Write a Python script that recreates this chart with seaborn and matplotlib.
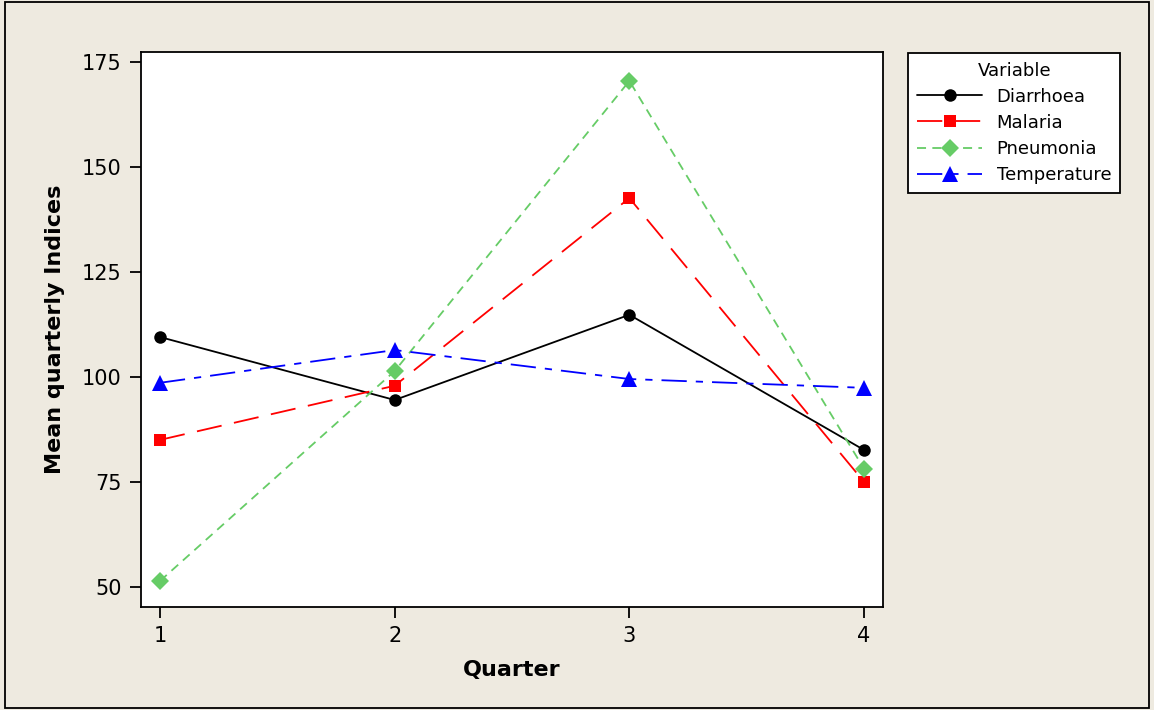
import pandas as pd
import matplotlib.pyplot as plt
import seaborn as sns
from matplotlib.patches import Rectangle

# Valores
quarters = [1, 2, 3, 4]
diarrhoea = [109.5, 94.5, 114.8, 82.6]
malaria = [85.0, 97.9, 142.6, 75.0]
pneumonia = [51.4, 101.4, 170.5, 78.1]
temperature = [98.6, 106.4, 99.5, 97.4]
variables = ['Diarrhoea', 'Malaria', 'Pneumonia', 'Temperature']

df = pd.DataFrame({
    'Quarter': quarters * 4,
    'Value': diarrhoea + malaria + pneumonia + temperature,
    'Variable': [v for v in variables for _ in quarters],
})

sns.set_style('ticks')
plt.rcParams['font.family'] = ['DejaVu Sans']
plt.rcParams.update({'text.color': 'black', 'axes.labelcolor': 'black',
                     'xtick.color': 'black', 'ytick.color': 'black',
                     'axes.edgecolor': 'black'})

bg = '#EEEAE0'
fig = plt.figure(figsize=(11.54, 7.10), dpi=100, facecolor=bg)
ax = fig.add_axes([0.1222, 0.1451, 0.643, 0.7817])

palette = {'Diarrhoea': 'black', 'Malaria': '#FF0000',
           'Pneumonia': '#66CC66', 'Temperature': '#0000FF'}
markers = {'Diarrhoea': 'o', 'Malaria': 's', 'Pneumonia': 'D', 'Temperature': '^'}
dashes = {'Diarrhoea': '', 'Malaria': (14, 7), 'Pneumonia': (5, 3.5),
          'Temperature': (14, 5, 4, 5)}

sns.lineplot(data=df, x='Quarter', y='Value', hue='Variable', style='Variable',
             palette=palette, markers=markers, dashes=dashes, markersize=9,
             markeredgewidth=0, linewidth=1.3, ax=ax)

# triangulos un poco mas grandes
for ln in ax.get_lines():
    if ln.get_marker() == '^':
        ln.set_markersize(12)

ax.set_xlim(0.919, 4.081)
ax.set_ylim(45.2, 177.4)
ax.set_xticks(quarters)
ax.set_yticks([50, 75, 100, 125, 150, 175])
ax.tick_params(direction='out', length=8, width=1.3, labelsize=15, pad=6)
for s in ax.spines.values():
    s.set_linewidth(1.3)
ax.set_xlabel('Quarter', fontsize=16, fontweight='bold', labelpad=10)
ax.set_ylabel('Mean quarterly Indices', fontsize=16, fontweight='bold', labelpad=12)

leg = ax.legend(title='Variable', loc='upper left', bbox_to_anchor=(0.787, 0.926),
                bbox_transform=fig.transFigure, fontsize=13, title_fontsize=13,
                frameon=True, fancybox=False, edgecolor='black', framealpha=1,
                handlelength=3.6, borderpad=0.5, labelspacing=0.45,
                handletextpad=0.8, borderaxespad=0)
leg.get_frame().set_linewidth(1.3)
for h in leg.legend_handles:
    if h.get_marker() == '^':
        h.set_markersize(12)

# Marco exterior
fig.patches.append(Rectangle((0.004, 0.003), 0.992, 0.994, transform=fig.transFigure,
                             fill=False, edgecolor='black', linewidth=1.3))

plt.savefig('out.png', dpi=100, facecolor=bg)
